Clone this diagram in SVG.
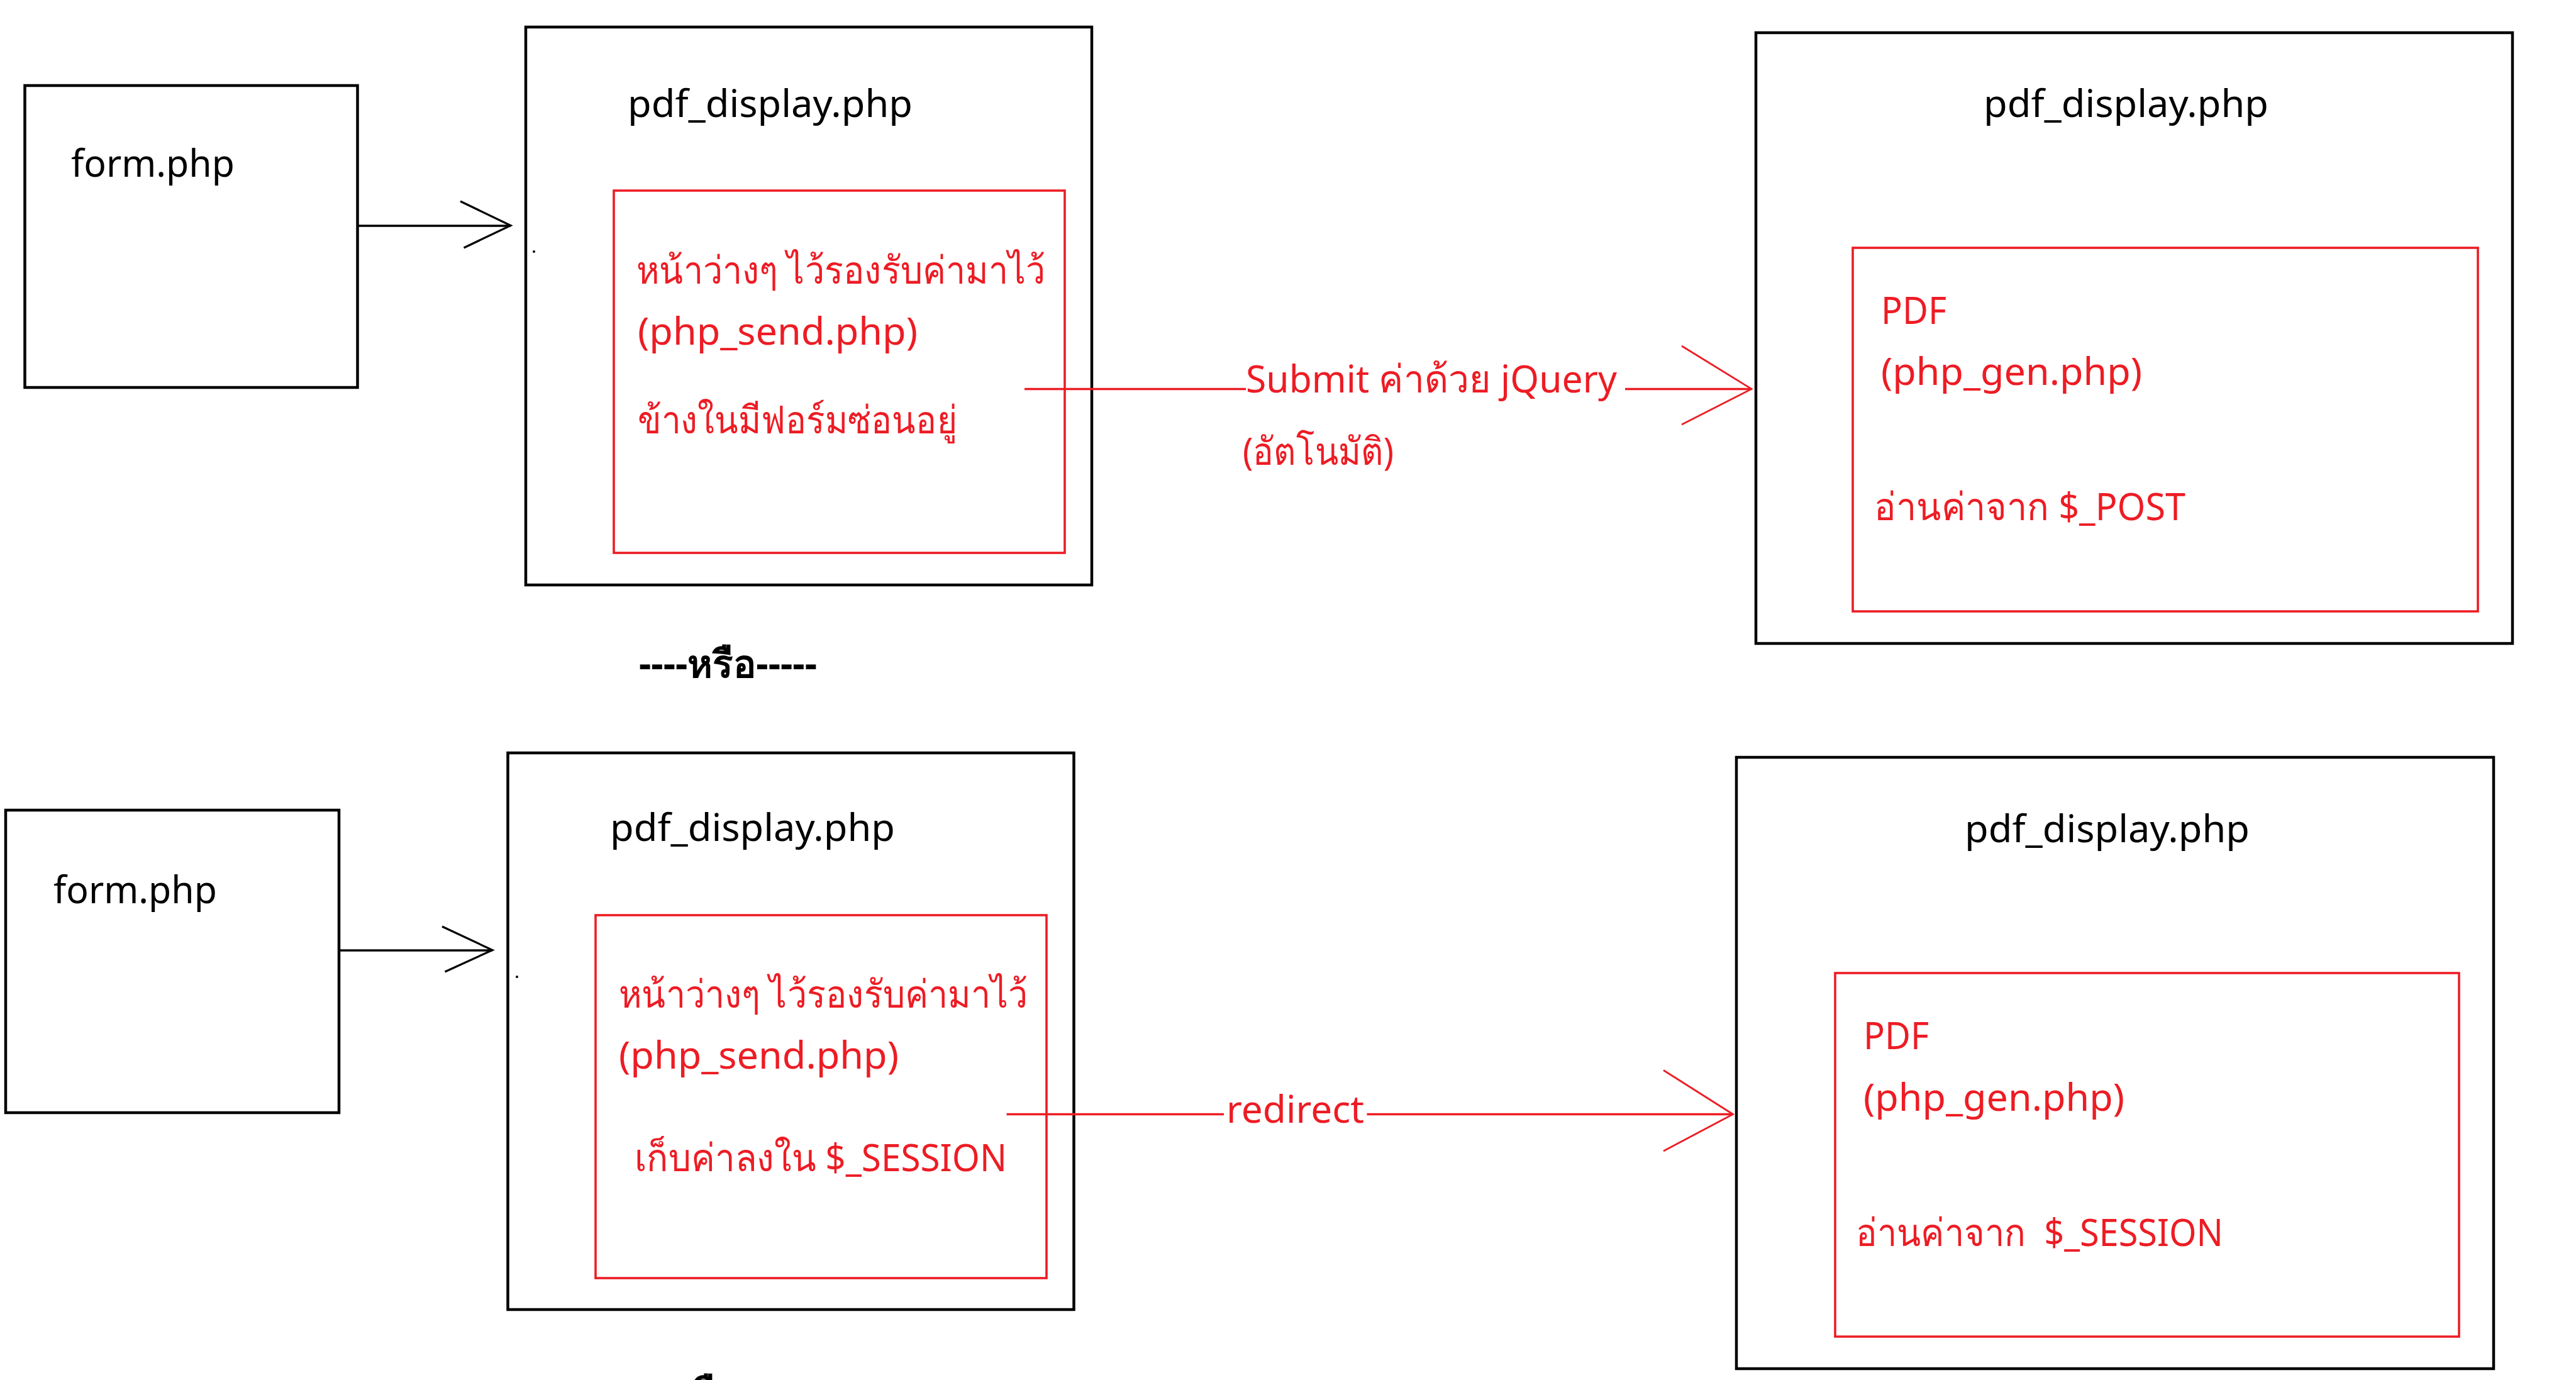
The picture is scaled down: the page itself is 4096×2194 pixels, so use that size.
<svg xmlns="http://www.w3.org/2000/svg" width="4096" height="2194" viewBox="0 0 4096 2194">
<style>
.bk{fill:none;stroke:#000;stroke-width:4.5}
.rd{fill:none;stroke:#ED1C24;stroke-width:3.6}
.t{font-family:"Noto Sans","Open Sans",sans-serif;font-size:61px;fill:#000}
.r{font-family:"Noto Sans","Open Sans",sans-serif;font-size:61px;fill:#ED1C24}
.ln{fill:none;stroke:#ED1C24;stroke-width:3.5}
.la{fill:none;stroke:#000;stroke-width:3.6}
.ah{fill:none;stroke:#ED1C24;stroke-width:2.8}
.ahb{fill:none;stroke:#000;stroke-width:3.2}
</style>
<rect width="4096" height="2194" fill="#fff"/>
<g id="form1"><rect class="bk" x="39.5" y="136" width="529" height="480"/><text class="t" x="113" y="281" textLength="260" lengthAdjust="spacingAndGlyphs">form.php</text></g>
<g id="display1"><rect class="bk" x="836" y="43" width="900" height="887"/><text class="t" x="998" y="186" textLength="453" lengthAdjust="spacingAndGlyphs">pdf_display.php</text><circle cx="849" cy="400" r="2" fill="#000"/></g>
<g id="send1"><rect class="rd" x="976" y="303" width="717" height="576"/>
<text class="r" x="1012" y="451" textLength="650" lengthAdjust="spacingAndGlyphs">หน้าว่างๆ ไว้รองรับค่ามาไว้</text>
<text class="r" x="1014" y="548" textLength="445" lengthAdjust="spacingAndGlyphs">(php_send.php)</text>
<text class="r" x="1014" y="689" textLength="508" lengthAdjust="spacingAndGlyphs">ข้างในมีฟอร์มซ่อนอยู่</text></g>
<g id="gen1"><rect class="bk" x="2792" y="52" width="1203" height="971"/><text class="t" x="3154" y="186" textLength="453" lengthAdjust="spacingAndGlyphs">pdf_display.php</text>
<rect class="rd" x="2946" y="394" width="994" height="578"/>
<text class="r" x="2991" y="515" textLength="104" lengthAdjust="spacingAndGlyphs">PDF</text>
<text class="r" x="2991" y="612" textLength="415" lengthAdjust="spacingAndGlyphs">(php_gen.php)</text>
<text class="r" x="2980" y="827" textLength="495" lengthAdjust="spacingAndGlyphs">อ่านค่าจาก $_POST</text></g>
<g id="or"><text class="t" x="1016" y="1077" font-weight="bold" textLength="283" lengthAdjust="spacingAndGlyphs">----หรือ-----</text>
<text class="t" x="987" y="2236" font-weight="bold" textLength="283" lengthAdjust="spacingAndGlyphs">----หรือ-----</text></g>
<g id="form2"><rect class="bk" x="9" y="1288" width="530" height="481"/><text class="t" x="85" y="1436" textLength="260" lengthAdjust="spacingAndGlyphs">form.php</text></g>
<g id="display2"><rect class="bk" x="807.5" y="1197" width="900" height="885"/><text class="t" x="970" y="1337" textLength="453" lengthAdjust="spacingAndGlyphs">pdf_display.php</text><circle cx="822" cy="1553" r="2" fill="#000"/></g>
<g id="send2"><rect class="rd" x="947" y="1455" width="717" height="577"/>
<text class="r" x="984" y="1602" textLength="650" lengthAdjust="spacingAndGlyphs">หน้าว่างๆ ไว้รองรับค่ามาไว้</text>
<text class="r" x="984" y="1699" textLength="445" lengthAdjust="spacingAndGlyphs">(php_send.php)</text>
<text class="r" x="1009" y="1862" textLength="592" lengthAdjust="spacingAndGlyphs">เก็บค่าลงใน $_SESSION</text></g>
<g id="gen2"><rect class="bk" x="2761" y="1204" width="1204" height="972"/><text class="t" x="3124" y="1339" textLength="453" lengthAdjust="spacingAndGlyphs">pdf_display.php</text>
<rect class="rd" x="2918" y="1547" width="992" height="578"/>
<text class="r" x="2963" y="1668" textLength="104" lengthAdjust="spacingAndGlyphs">PDF</text>
<text class="r" x="2963" y="1766" textLength="415" lengthAdjust="spacingAndGlyphs">(php_gen.php)</text>
<text class="r" x="2951" y="1981" xml:space="preserve" textLength="584" lengthAdjust="spacingAndGlyphs">อ่านค่าจาก  $_SESSION</text></g>
<g id="connectors">
<line class="la" x1="569" y1="359" x2="812" y2="359"/>
<polyline class="ahb" points="732,320 812,358.5 737.5,394"/>
<line class="ln" x1="1629" y1="618.4" x2="1981" y2="618.4"/>
<line class="ln" x1="2584" y1="618.4" x2="2785" y2="618.4"/>
<polyline class="ah" points="2674,550 2785,618.4 2674,675"/>
<text class="r" x="1981" y="624" textLength="590" lengthAdjust="spacingAndGlyphs">Submit ค่าด้วย jQuery</text>
<text class="r" x="1976" y="739" textLength="240" lengthAdjust="spacingAndGlyphs">(อัตโนมัติ)</text>
<line class="la" x1="539" y1="1511" x2="783" y2="1511"/>
<polyline class="ahb" points="703,1473 783,1510.5 707.5,1545"/>
<line class="ln" x1="1600.6" y1="1771.5" x2="1946" y2="1771.5"/>
<line class="ln" x1="2173.5" y1="1771.5" x2="2755.5" y2="1771.5"/>
<polyline class="ah" points="2645,1701.5 2755.5,1771.5 2645,1830"/>
<text class="r" x="1950" y="1785" textLength="219" lengthAdjust="spacingAndGlyphs">redirect</text>
</g>
</svg>
